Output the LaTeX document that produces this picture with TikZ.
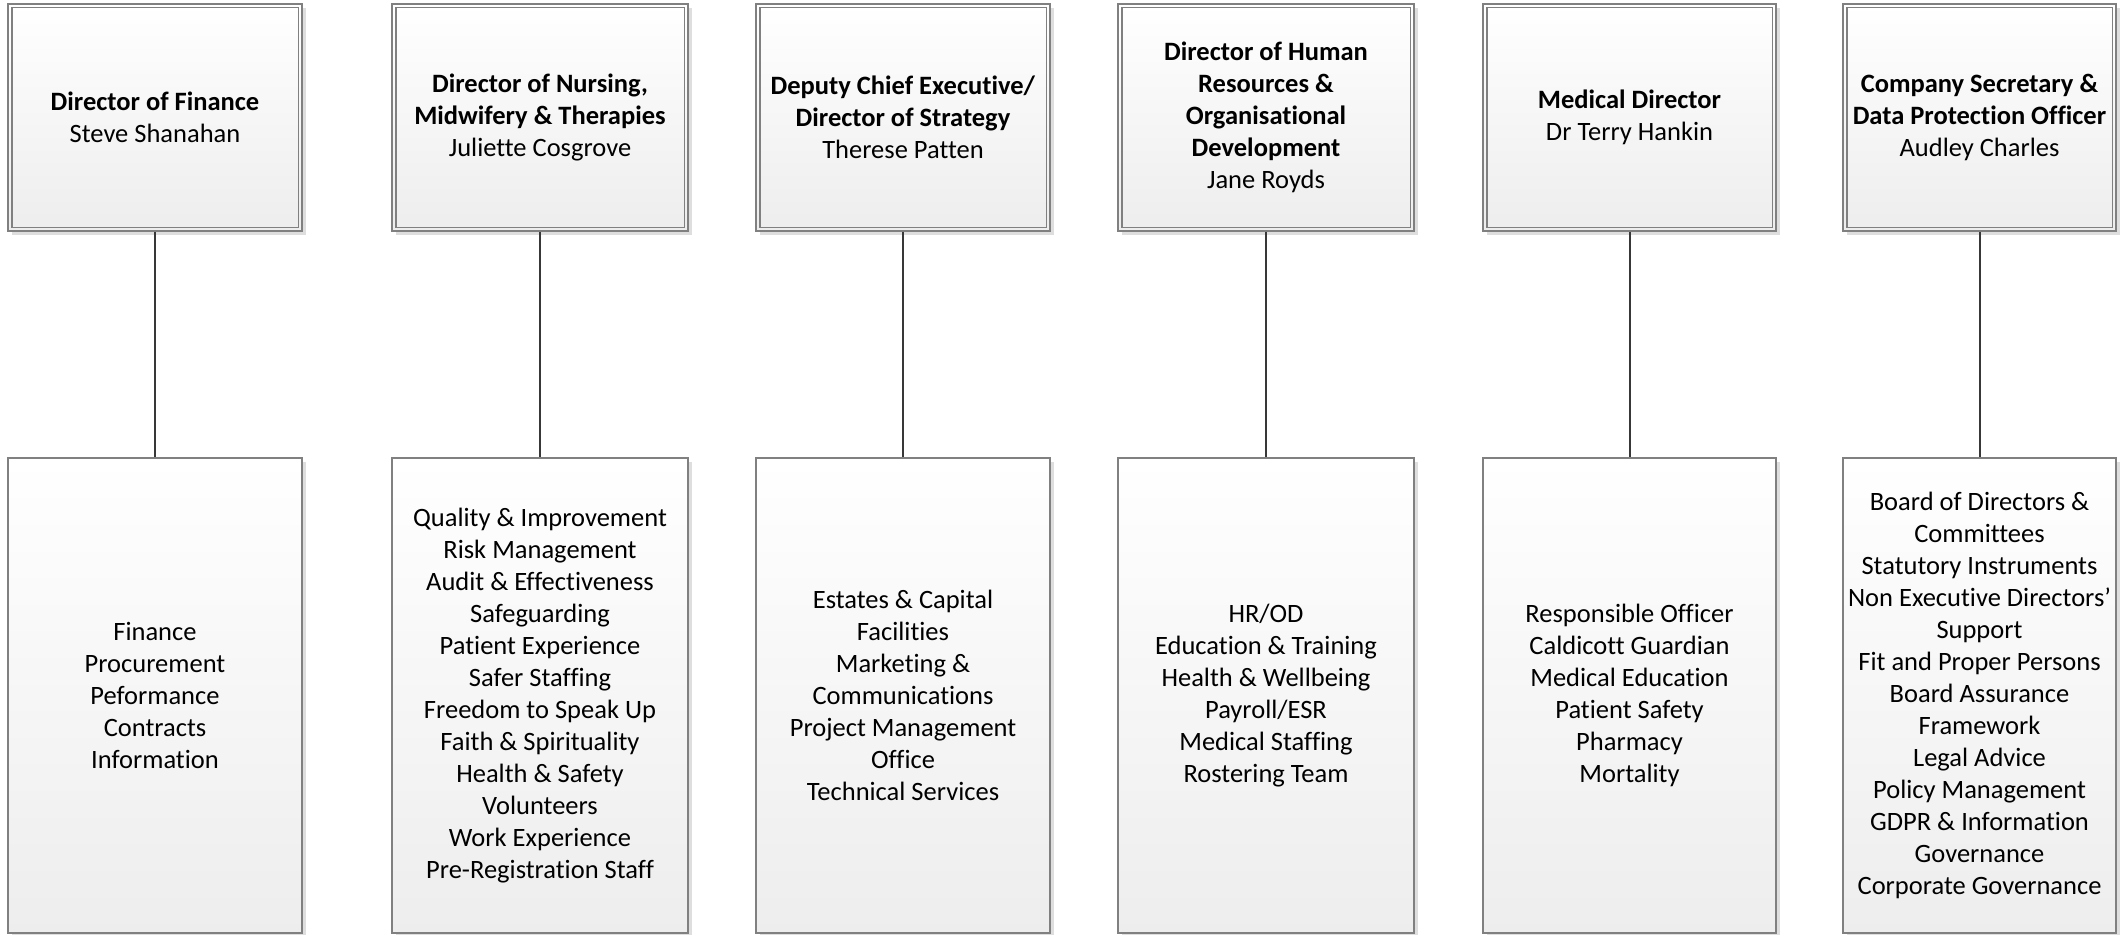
\documentclass[tikz,border=0pt]{standalone}
\usepackage{fontspec}
\setmainfont{Carlito}[Ligatures=NoCommon]
\usetikzlibrary{shadows}
\begin{document}
\begin{tikzpicture}[x=1pt,y=-1pt,
  boxline/.style={draw=black!50, line width=1.3pt},
  basebox/.style={boxline, rectangle, top color=white, bottom color=black!7,
    align=center, inner sep=0pt, font=\fontsize{26.5}{32}\selectfont,
    drop shadow={shadow xshift=4pt, shadow yshift=-4pt, fill=black, opacity=0.13}},
  headbox/.style={basebox, minimum height=227pt},
  unitbox/.style={basebox, minimum height=475pt},
  link/.style={draw=black!78, line width=2pt}]
\useasboundingbox (0,0) rectangle (2124,934);

% head boxes
\node[headbox, minimum width=294pt] (h1) at (155,117.5) {\textbf{Director of Finance}\\Steve Shanahan};
\node[headbox, minimum width=296pt] (h2) at (540,117.5) {\textbf{Director of Nursing,}\\\textbf{Midwifery \& Therapies}\\Juliette Cosgrove};
\node[headbox, minimum width=294pt] (h3) at (903,117.5) {\textbf{Deputy Chief Executive/}\\\textbf{Director of Strategy}\\Therese Patten};
\node[headbox, minimum width=296pt] (h4) at (1266,117.5) {\textbf{Director of Human}\\\textbf{Resources \&}\\\textbf{Organisational}\\\textbf{Development}\\Jane Royds};
\node[headbox, minimum width=293pt] (h5) at (1629.5,117.5) {\textbf{Medical Director}\\Dr Terry Hankin};
\node[headbox, minimum width=273pt] (h6) at (1979.5,117.5) {\textbf{Company Secretary \&}\\\textbf{Data Protection Officer}\\Audley Charles};

% inner lines of the double borders
\foreach \n in {h1,h2,h3,h4,h5,h6}{
  \draw[boxline] ([shift={(4.5,4.5)}]\n.north west) rectangle ([shift={(-4.5,-4.5)}]\n.south east);
}

% unit boxes
\node[unitbox, minimum width=294pt] (u1) at (155,695.5) {Finance\\Procurement\\Peformance\\Contracts\\Information};
\node[unitbox, minimum width=296pt] (u2) at (540,695.5) {Quality \& Improvement\\Risk Management\\Audit \& Effectiveness\\Safeguarding\\Patient Experience\\Safer Staffing\\Freedom to Speak Up\\Faith \& Spirituality\\Health \& Safety\\Volunteers\\Work Experience\\Pre-Registration Staff};
\node[unitbox, minimum width=294pt] (u3) at (903,695.5) {Estates \& Capital\\Facilities\\Marketing \&\\Communications\\Project Management\\Office\\Technical Services};
\node[unitbox, minimum width=296pt] (u4) at (1266,695.5) {HR/OD\\Education \& Training\\Health \& Wellbeing\\Payroll/ESR\\Medical Staffing\\Rostering Team};
\node[unitbox, minimum width=293pt] (u5) at (1629.5,695.5) {Responsible Officer\\Caldicott Guardian\\Medical Education\\Patient Safety\\Pharmacy\\Mortality};
\node[unitbox, minimum width=273pt] (u6) at (1979.5,695.5) {Board of Directors \&\\Committees\\Statutory Instruments\\Non Executive Directors’\\Support\\Fit and Proper Persons\\Board Assurance\\Framework\\Legal Advice\\Policy Management\\GDPR \& Information\\Governance\\Corporate Governance};

% connectors
\foreach \i in {1,...,6}{
  \draw[link] (h\i.south) -- (u\i.north);
}
\end{tikzpicture}
\end{document}
